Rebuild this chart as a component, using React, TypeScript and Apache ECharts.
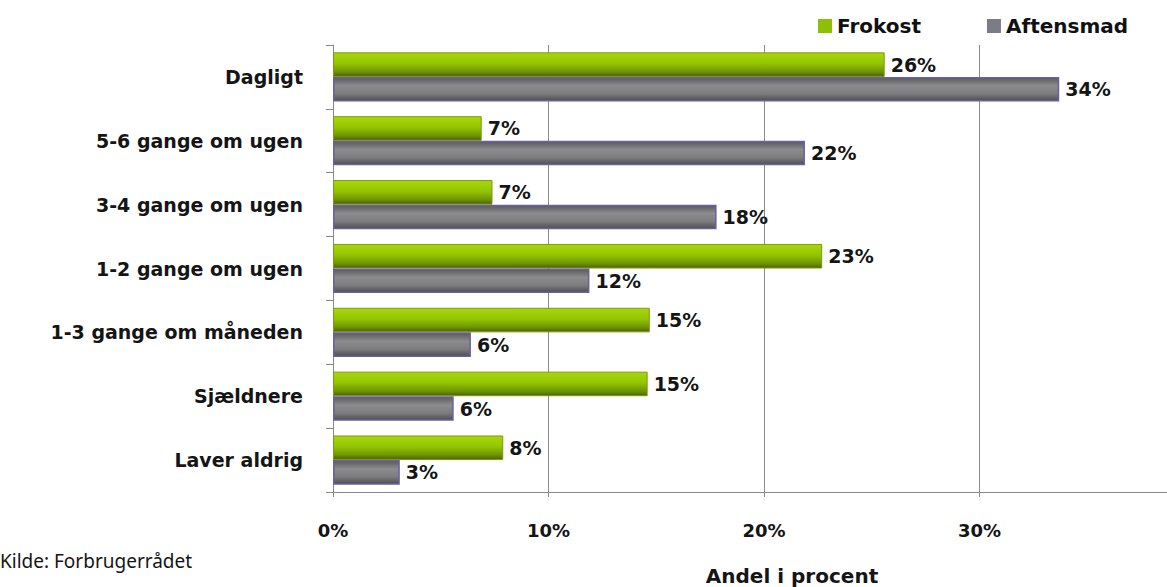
import React, { useEffect, useRef } from "react";
import * as echarts from "echarts";

const categories = [
  "Dagligt",
  "5-6 gange om ugen",
  "3-4 gange om ugen",
  "1-2 gange om ugen",
  "1-3 gange om måneden",
  "Sjældnere",
  "Laver aldrig",
];
const frokost = [25.6, 6.9, 7.4, 22.7, 14.7, 14.6, 7.9];
const aftensmad = [33.7, 21.9, 17.8, 11.9, 6.4, 5.6, 3.1];
const seriesNames = ["Frokost", "Aftensmad"];

const FONT = "DejaVu Sans";

export default function App() {
  const ref = useRef<HTMLDivElement>(null);
  useEffect(() => {
    document.body.style.margin = "0";
    const chart = echarts.init(ref.current!, undefined, { renderer: "svg" });
    const greenGrad = new echarts.graphic.LinearGradient(0, 0, 0, 1, [
      { offset: 0, color: "#a9d60a" },
      { offset: 0.45, color: "#93c600" },
      { offset: 0.8, color: "#6f9500" },
      { offset: 1, color: "#4a6300" },
    ]);
    const greyGrad = new echarts.graphic.LinearGradient(0, 0, 0, 1, [
      { offset: 0, color: "#5a5a5e" },
      { offset: 0.35, color: "#8c8c8e" },
      { offset: 0.7, color: "#7c7c7e" },
      { offset: 1, color: "#4e4e52" },
    ]);
    const labelStyle = {
      show: true,
      position: "right" as const,
      distance: 6,
      fontFamily: FONT,
      fontWeight: "bold" as const,
      fontSize: 19,
      color: "#151515",
      formatter: (p: any) => Math.round(p.value) + "%",
    };
    chart.setOption({
      animation: false,
      backgroundColor: "#ffffff",
      legend: {
        data: [
          { name: seriesNames[0], itemStyle: { color: "#8cc000", borderWidth: 0 } },
          { name: seriesNames[1], itemStyle: { color: "#7c7c86", borderWidth: 0 } },
        ],
        left: 813,
        top: 11,
        itemWidth: 14,
        itemHeight: 14,
        itemGap: 66,
        icon: "rect",
        textStyle: { fontFamily: FONT, fontWeight: "bold", fontSize: 20, color: "#111" },
      },
      grid: {
        left: 333,
        top: 45,
        bottom: 95,
        right: -28,
        outerBoundsMode: "none",
        containLabel: false,
      },
      xAxis: {
        type: "value",
        min: 0,
        max: 40,
        interval: 10,
        axisLine: { show: true, lineStyle: { color: "#8a8a8a", width: 1 } },
        axisTick: { show: true, length: 5, lineStyle: { color: "#8a8a8a" } },
        splitLine: { show: true, lineStyle: { color: "#8a8a8a", width: 1 } },
        axisLabel: {
          formatter: "{value}%",
          showMaxLabel: false,
          margin: 29,
          fontFamily: FONT,
          fontWeight: "bold",
          fontSize: 18,
          color: "#151515",
        },
      },
      yAxis: {
        type: "category",
        data: categories,
        inverse: true,
        axisLine: { show: true, lineStyle: { color: "#8a8a8a", width: 1 } },
        axisTick: { show: true, length: 7, lineStyle: { color: "#8a8a8a" } },
        axisLabel: {
          margin: 30,
          fontFamily: FONT,
          fontWeight: "bold",
          fontSize: 19,
          color: "#151515",
        },
      },
      series: [
        {
          name: seriesNames[0],
          type: "bar",
          data: frokost,
          barGap: "0%",
          barCategoryGap: "23%",
          itemStyle: { color: greenGrad, borderColor: "#7a9a10", borderWidth: 1 },
          label: labelStyle,
        },
        {
          name: seriesNames[1],
          type: "bar",
          data: aftensmad,
          itemStyle: { color: greyGrad, borderColor: "#6a5fa0", borderWidth: 1.5 },
          label: labelStyle,
        },
      ],
      graphic: [
        {
          type: "text",
          left: 0,
          top: 551,
          style: {
            text: "Kilde: Forbrugerrådet",
            fontFamily: "Noto Sans",
            fontSize: 19,
            fill: "#151515",
          },
        },
        {
          type: "text",
          x: 792,
          y: 576,
          style: {
            text: "Andel i procent",
            fontFamily: FONT,
            fontWeight: "bold",
            fontSize: 20,
            fill: "#151515",
            align: "center",
            verticalAlign: "middle",
          },
        },
      ],
    });
    return () => chart.dispose();
  }, []);
  return <div ref={ref} style={{ width: 1167, height: 587 }} />;
}
